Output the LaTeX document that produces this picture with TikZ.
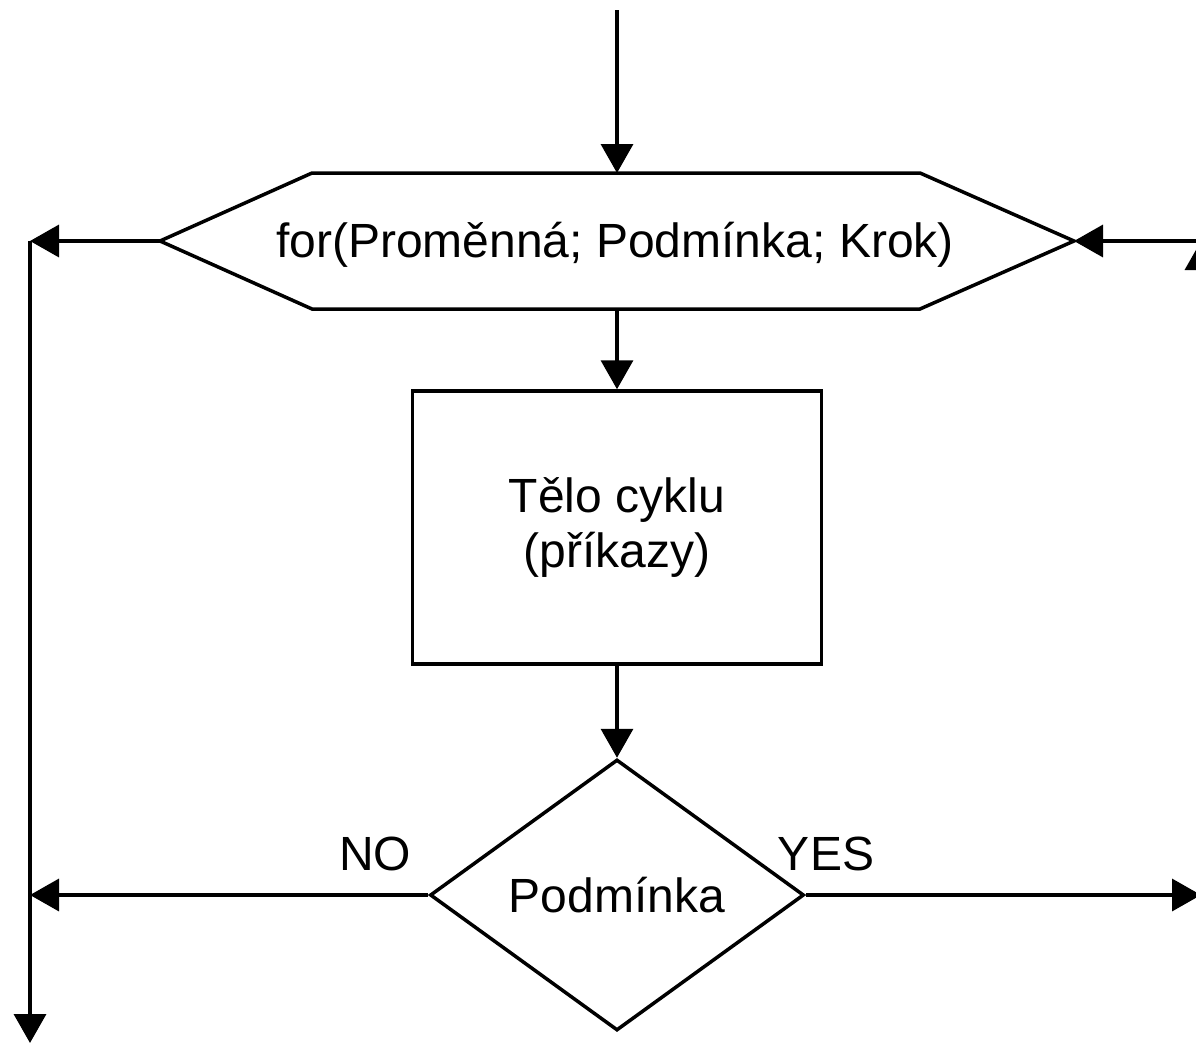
\documentclass[tikz,border=0pt]{standalone}
\usepackage{fontspec}
\setmainfont{Liberation Sans}
\usetikzlibrary{arrows.meta,shapes.geometric}
\begin{document}
\begin{tikzpicture}[x=1pt,y=-1pt,
  line/.style={line width=3.5pt},
  arr/.style={line, -{Triangle[length=29pt,width=32pt]}},
  txt/.style={font=\fontsize{48}{55}\selectfont, inner sep=0pt},
  bodybox/.style={draw, line width=3.5pt, minimum width=409pt, minimum height=273pt,
    align=center, font=\fontsize{48}{55}\selectfont},
  decision/.style={draw, line width=3.5pt, diamond, aspect=1.38, inner sep=0pt,
    minimum width=374pt, minimum height=271pt, font=\fontsize{48}{55}\selectfont}]
\useasboundingbox (0,0) rectangle (1196,1044);
\clip (0,0) rectangle (1196,1044);

% loop header (hexagon)
\coordinate (hexW) at (160,241);
\coordinate (hexE) at (1074,241);
\coordinate (hexN) at (617,173);
\coordinate (hexS) at (617,309);
\draw[line, line join=miter] (hexW) -- (312,173) -- (920,173) -- (hexE)
  -- (920,309) -- (312,309) -- cycle;
\node[txt, anchor=base] (loop) at (615,257) {for(Proměnná; Podmínka; Krok)};

% loop body
\node[bodybox] (body) at (617,527.5) {Tělo cyklu\\(příkazy)};

% condition
\node[decision] (dec) at (617,895) {Podmínka};
\node[txt, anchor=base] (no) at (375,870) {NO};
\node[txt, anchor=base] (yes) at (826,870) {YES};

% helper points of the connectors
\coordinate (start) at (617,10);
\coordinate (ltop) at (30,241);
\coordinate (lmid) at (30,895);
\coordinate (lbot) at (30,1043);
\coordinate (rbend) at (1201,895);
\coordinate (rtop) at (1201,241);

% connectors
\draw[arr] (start) -- (hexN);
\draw[arr] (hexS) -- (body.north);
\draw[arr] (body.south) -- (dec.north);
\draw[arr] (hexW) -- (ltop);
\draw[arr] (ltop) -- (lbot);
\draw[arr] (dec.west) -- (lmid);
\draw[arr] (dec.east) -- (rbend);
\draw[arr] (rbend) -- (rtop);
\draw[arr] (rtop) -- (hexE);
\end{tikzpicture}
\end{document}
